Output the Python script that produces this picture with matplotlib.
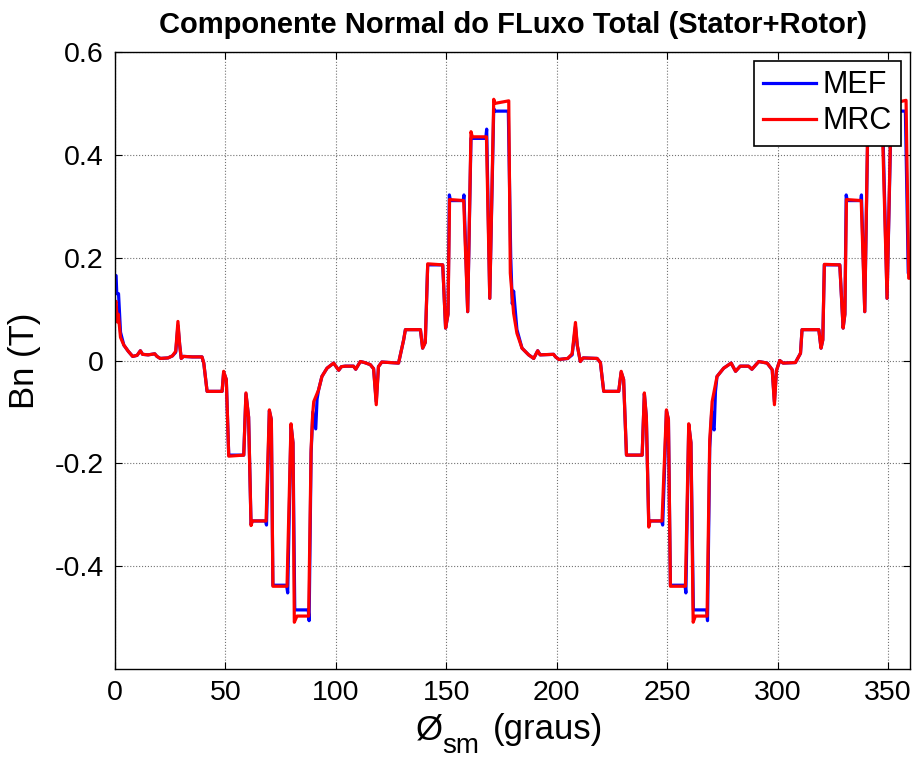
import numpy as np
import matplotlib.pyplot as plt
from matplotlib import font_manager

plt.rcParams['font.family'] = ['Liberation Sans', 'DejaVu Sans']

# bold Liberation Sans (avoid the Narrow variant)
bold_file = None
for f in font_manager.fontManager.ttflist:
    if f.fname.endswith('LiberationSans-Bold.ttf'):
        bold_file = f.fname
title_font = font_manager.FontProperties(fname=bold_file, size=21) if bold_file else \
    font_manager.FontProperties(family='Liberation Sans', weight='bold', size=21)

# angle (graus), Bn (T)
mrc = [
    (0, 0.111), (0.5, 0.115), (1.0, 0.075), (1.5, 0.09), (2.5, 0.045), (4, 0.03),
    (6, 0.018), (8, 0.008), (10, 0.010), (11.5, 0.019), (12.5, 0.012), (15, 0.011),
    (18, 0.013), (19, 0.008), (20.5, 0.004), (24, 0.005), (26, 0.009), (27.5, 0.018),
    (28.5, 0.076), (29.3, 0.030), (30, 0.004), (31, 0.008), (35, 0.007), (39.4, 0.007),
    (40.2, -0.005), (41.7, -0.060), (48.5, -0.060), (49.2, -0.021), (50.4, -0.037),
    (51.5, -0.186), (58.3, -0.184), (59.3, -0.063), (60.5, -0.110), (61.6, -0.321),
    (62.2, -0.312), (68.4, -0.312), (69.9, -0.096), (70.8, -0.115), (71.5, -0.439),
    (77.9, -0.439), (79.7, -0.123), (80.6, -0.160), (81.2, -0.509), (82.4, -0.497),
    (87.7, -0.497), (88.8, -0.173), (89.5, -0.105), (90, -0.080), (92.2, -0.057),
    (93.7, -0.031), (96, -0.015), (99, -0.005), (101.3, -0.019), (102.5, -0.012),
    (104.3, -0.011), (108, -0.011), (109, -0.017), (111.1, -0.002), (113, -0.004),
    (115.6, -0.008), (117.1, -0.016), (118.3, -0.086), (119.3, -0.012), (120.8, -0.003),
    (128.4, -0.005), (130.7, 0.040), (131.5, 0.060), (138.3, 0.060), (139.3, 0.024),
    (140.5, 0.035), (141.6, 0.188), (148.4, 0.186), (149.7, 0.063), (150.8, 0.090),
    (151.5, 0.313), (157.9, 0.311), (159.7, 0.095), (161.2, 0.445), (161.8, 0.435),
    (168.2, 0.435), (169.7, 0.121), (171.5, 0.508), (172.0, 0.500), (178.3, 0.505),
    (179, 0.170), (180.5, 0.092), (182, 0.053), (184.3, 0.024), (187.3, 0.011),
    (189.6, 0.004), (191.4, 0.019), (192.5, 0.011), (198.6, 0.012), (199.5, 0.007),
    (201, 0.002), (205, 0.004), (207, 0.013), (208.5, 0.074), (209.3, 0.030),
    (210.7, -0.002), (212, 0.005), (218.3, 0.004), (219.8, -0.004), (221.3, -0.060),
    (228.1, -0.060), (229.2, -0.021), (230.3, -0.037), (231.6, -0.184), (238.7, -0.184),
    (239.7, -0.063), (240.6, -0.110), (241.7, -0.324), (242.3, -0.312), (247.7, -0.312),
    (249.7, -0.096), (250.6, -0.115), (251.5, -0.439), (258.3, -0.439), (259.8, -0.123),
    (260.8, -0.160), (261.8, -0.509), (262.8, -0.497), (268.1, -0.497), (269.3, -0.154),
    (270.4, -0.080), (272.6, -0.031), (275.6, -0.015), (279, -0.005), (281, -0.021),
    (283.1, -0.011), (286.9, -0.011), (288.4, -0.017), (291.5, -0.002), (295.3, -0.005),
    (297.6, -0.018), (298.6, -0.086), (299.5, -0.020), (301, 0.0), (302.5, -0.005),
    (308.1, -0.004), (310.4, 0.014), (311.1, 0.060), (318.7, 0.060), (319.7, 0.024),
    (320.5, 0.040), (321.2, 0.187), (328.2, 0.186), (329.7, 0.063), (330.5, 0.090),
    (331.2, 0.313), (337.9, 0.311), (339.5, 0.095), (340.8, 0.445), (341.5, 0.435),
    (347.6, 0.435), (349.6, 0.121), (351.5, 0.508), (352, 0.500), (358.2, 0.506),
    (359.4, 0.160), (360, 0.160),
]

mef = [
    (0, 0.166), (0.5, 0.165), (0.8, 0.13), (1.6, 0.13), (2.5, 0.055), (4, 0.03),
    (6, 0.018), (8, 0.008), (10, 0.010), (11.5, 0.019), (12.5, 0.012), (15, 0.011),
    (18, 0.013), (19, 0.008), (20.5, 0.004), (24, 0.005), (26, 0.009), (27.5, 0.016),
    (28.5, 0.068), (29.3, 0.030), (30, 0.004), (31, 0.008), (35, 0.007), (39.4, 0.007),
    (40.2, -0.005), (41.7, -0.060), (48.5, -0.060), (49.2, -0.023), (50.4, -0.037),
    (51.5, -0.184), (58.3, -0.184), (59.3, -0.065), (60.5, -0.110), (61.6, -0.318),
    (62.2, -0.312), (68.2, -0.312), (68.6, -0.320), (69.9, -0.098), (70.8, -0.115),
    (71.5, -0.437), (77.7, -0.437), (78.2, -0.452), (79.7, -0.125), (80.6, -0.160),
    (81.4, -0.485), (87.5, -0.485), (87.9, -0.506), (88.8, -0.180), (89.6, -0.100),
    (90.4, -0.120), (90.9, -0.133), (91.5, -0.075), (92.2, -0.057),
    (93.7, -0.031), (96, -0.015), (99, -0.005), (101.3, -0.019), (102.5, -0.012),
    (104.3, -0.011), (108, -0.011), (109, -0.017), (111.1, -0.002), (113, -0.004),
    (115.6, -0.008), (117.1, -0.016), (118.3, -0.080), (119.3, -0.012), (120.8, -0.003),
    (128.4, -0.005), (130.7, 0.040), (131.5, 0.060), (138.3, 0.060), (139.3, 0.024),
    (140.5, 0.035), (141.6, 0.186), (148.4, 0.186), (149.7, 0.063), (150.8, 0.090),
    (151.4, 0.322), (151.9, 0.311), (157.7, 0.311), (158.0, 0.322), (159.7, 0.095),
    (161.2, 0.432), (167.9, 0.432), (168.3, 0.450), (169.7, 0.121), (171.5, 0.490),
    (172.0, 0.485), (178.1, 0.485), (179.2, 0.200), (179.9, 0.110), (180.5, 0.135),
    (181.2, 0.100), (182, 0.060), (184.3, 0.024), (187.3, 0.011),
    (189.6, 0.004), (191.4, 0.019), (192.5, 0.011), (198.6, 0.012), (199.5, 0.007),
    (201, 0.002), (205, 0.004), (207, 0.011), (208.5, 0.066), (209.3, 0.030),
    (210.7, -0.002), (212, 0.005), (218.3, 0.004), (219.8, -0.004), (221.3, -0.060),
    (228.1, -0.060), (229.2, -0.023), (230.3, -0.037), (231.6, -0.184), (238.7, -0.184),
    (239.7, -0.065), (240.6, -0.110), (241.7, -0.318), (242.3, -0.312), (247.5, -0.312),
    (248.0, -0.320), (249.7, -0.098), (250.6, -0.115), (251.5, -0.437), (258.1, -0.437),
    (258.5, -0.452), (259.8, -0.125), (260.8, -0.160), (261.9, -0.485), (267.9, -0.485),
    (268.3, -0.506), (269.3, -0.170), (270.2, -0.100), (270.8, -0.130), (271.3, -0.135),
    (271.9, -0.060), (272.6, -0.031), (275.6, -0.015), (279, -0.005), (281, -0.021),
    (283.1, -0.011), (286.9, -0.011), (288.4, -0.017), (291.5, -0.002), (295.3, -0.005),
    (297.6, -0.018), (298.6, -0.080), (299.5, -0.020), (301, 0.0), (302.5, -0.005),
    (308.1, -0.004), (310.4, 0.014), (311.1, 0.060), (318.7, 0.060), (319.7, 0.024),
    (320.5, 0.040), (321.2, 0.186), (328.2, 0.186), (329.7, 0.063), (330.5, 0.090),
    (331.1, 0.322), (331.6, 0.311), (337.7, 0.311), (338.0, 0.322), (339.5, 0.095),
    (340.8, 0.432), (347.3, 0.432), (347.7, 0.450), (349.6, 0.121), (351.5, 0.490),
    (352, 0.485), (357.9, 0.485), (359.2, 0.170), (360, 0.165),
]

mef_x, mef_y = np.array(mef).T
mrc_x, mrc_y = np.array(mrc).T

W, H = 917, 760
fig = plt.figure(figsize=(W / 100, H / 100), dpi=100)
ax = fig.add_axes([0.1254, 0.1197, 0.8670, 0.8119])

ax.plot(mef_x, mef_y, color='#0000ff', lw=2.3, label='MEF')
ax.plot(mrc_x, mrc_y, color='#ff0000', lw=2.3, label='MRC')

ax.set_xlim(0, 360)
ax.set_ylim(-0.6, 0.6)
ax.set_xticks([0, 50, 100, 150, 200, 250, 300, 350])
ax.set_yticks([-0.4, -0.2, 0, 0.2, 0.4, 0.6])
ax.set_yticklabels(['-0.4', '-0.2', '0', '0.2', '0.4', '0.6'])
ax.tick_params(direction='in', top=True, right=True, length=5, width=0.8,
               labelsize=20.5, pad=8)
ax.grid(True, linestyle=':', color='0.45', lw=0.8)
for s in ax.spines.values():
    s.set_linewidth(1.0)

ax.set_title('Componente Normal do FLuxo Total (Stator+Rotor)',
             fontproperties=title_font, pad=14)
ax.set_ylabel('Bn (T)', fontsize=25, labelpad=10)

# x label: Ø with lowered subscript "sm"
fig.text(416 / W, 1 - 739 / H, 'Ø', fontsize=25, va='baseline', ha='left')
fig.text(442 / W, 1 - 753 / H, 'sm', fontsize=20, va='baseline', ha='left')
fig.text(493 / W, 1 - 739 / H, '(graus)', fontsize=25, va='baseline', ha='left')

leg = ax.legend(loc='upper right', fontsize=22, fancybox=False, framealpha=1,
                edgecolor='black', handlelength=1.75, handletextpad=0.2,
                borderpad=0.3, labelspacing=0.2, borderaxespad=0.3)
leg.get_frame().set_linewidth(1.2)

fig.savefig('out.png', dpi=100)
